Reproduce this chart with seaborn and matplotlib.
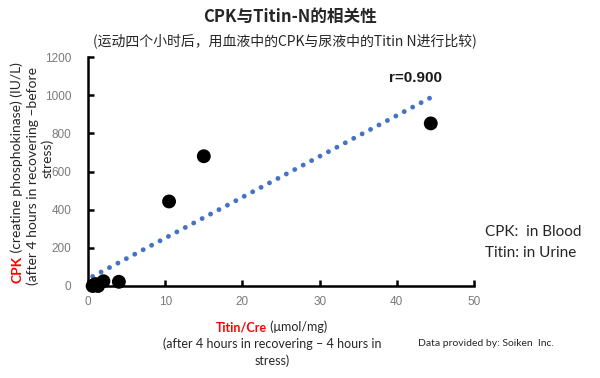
import numpy as np
import pandas as pd
import seaborn as sns
import matplotlib.pyplot as plt

# values
titin_cre = [0.6, 0.8, 1.0, 1.3, 2.0, 4.0, 10.5, 15.0, 44.4]
cpk = [0, 5, 10, 0, 25, 22, 443, 680, 852]
x_ticks = [0, 10, 20, 30, 40, 50]
y_ticks = [0, 200, 400, 600, 800, 1000, 1200]

df = pd.DataFrame({"Titin/Cre": titin_cre, "CPK": cpk})

sns.set_style("ticks")
plt.rcParams['font.family'] = ['Lato', 'Noto Sans CJK SC', 'DejaVu Sans']

fig = plt.figure(figsize=(6, 3.78), dpi=100)
ax = fig.add_axes([88/600, 1-286/378, 386/600, 229/378])

# trend line (least squares fit of the points)
sns.regplot(x="Titin/Cre", y="CPK", data=df, ax=ax, ci=None, scatter=False, truncate=True,
            line_kws=dict(color="#4472C4", lw=3.5, linestyle=(0, (0.01, 1.95)),
                          dash_capstyle="round"))
sns.scatterplot(x="Titin/Cre", y="CPK", data=df, ax=ax, color="black", s=100,
                edgecolor="none", clip_on=False, zorder=5)

ax.set_xlim(0, 50)
ax.set_ylim(0, 1200)
ax.set_xticks(x_ticks)
ax.set_yticks(y_ticks)
ax.set_xlabel("")
ax.set_ylabel("")
sns.despine(ax=ax)
for s in ["left", "bottom"]:
    ax.spines[s].set_linewidth(1.8)
    ax.spines[s].set_color("black")
ax.tick_params(axis="both", direction="in", length=4, width=1.8, color="black",
               labelcolor="#7a7a7a", labelsize=8.5)
ax.tick_params(axis="y", pad=12)
ax.tick_params(axis="x", pad=7)
for lab in ax.get_xticklabels() + ax.get_yticklabels():
    lab.set_family("Liberation Sans")

# r value
ax.text(416/600, 1-78/378, "r=0.900", transform=fig.transFigure, ha="center", va="center",
        fontsize=11, fontweight="bold", family="Liberation Sans", color="#1a1a1a")

# titles
fig.text(290/600, 1-17/378, "CPK与Titin-N的相关性", ha="center", va="center",
         fontsize=12, fontweight="bold", family=["Noto Sans CJK SC", "DejaVu Sans"])
fig.text(285/600, 1-41/378, "(运动四个小时后，用血液中的CPK与尿液中的Titin N进行比较)",
         ha="center", va="center", fontsize=10, color="#262626",
         family=["Noto Sans CJK SC", "DejaVu Sans"])

# y label (three rotated lines, CPK in red)
ysize = 10
t1 = fig.text(17/600, 1-283/378, "CPK", rotation=90, color="red", fontweight="bold",
              fontsize=ysize, ha="center", va="bottom")
ax.annotate(" (creatine phosphokinase) (IU/L)", xy=(0.5, 1), xycoords=t1, rotation=90,
            ha="center", va="bottom", fontsize=ysize, color="#262626")
fig.text(33/600, 1-176/378, "(after 4 hours in recovering \u2013before", rotation=90,
         ha="center", va="center", fontsize=ysize, color="#262626")
fig.text(47/600, 1-158/378, "stress)", rotation=90, ha="center", va="center",
         fontsize=ysize, color="#262626")

# x label (Titin/Cre in red)
lsize = 9
renderer = fig.canvas.get_renderer()
xa = fig.text(0, 1-327/378, "Titin/Cre", color="red", fontweight="bold", fontsize=lsize,
              ha="left", va="center")
xb = fig.text(0, 1-327/378, " (\u03bcmol/mg)", color="#262626", fontsize=lsize,
              ha="left", va="center")
wa = xa.get_window_extent(renderer).width
wb = xb.get_window_extent(renderer).width
x0 = 272 - (wa + wb) / 2
xa.set_x(x0/600)
xb.set_x((x0 + wa)/600)
fig.text(272/600, 1-344/378, "(after 4 hours in recovering \u2013 4 hours in", ha="center",
         va="center", fontsize=lsize, color="#262626")
fig.text(272/600, 1-361/378, "stress)", ha="center", va="center", fontsize=lsize,
         color="#262626")

fig.text(418/600, 1-343/378, "Data provided by: Soiken  Inc.", ha="left", va="center",
         fontsize=7.5, color="#262626")
fig.text(485/600, 1-232/378, "CPK:  in Blood", ha="left", va="center", fontsize=11,
         color="#262626")
fig.text(485/600, 1-253/378, "Titin: in Urine", ha="left", va="center", fontsize=11,
         color="#262626")

fig.savefig("out.png", dpi=100, facecolor="white")
